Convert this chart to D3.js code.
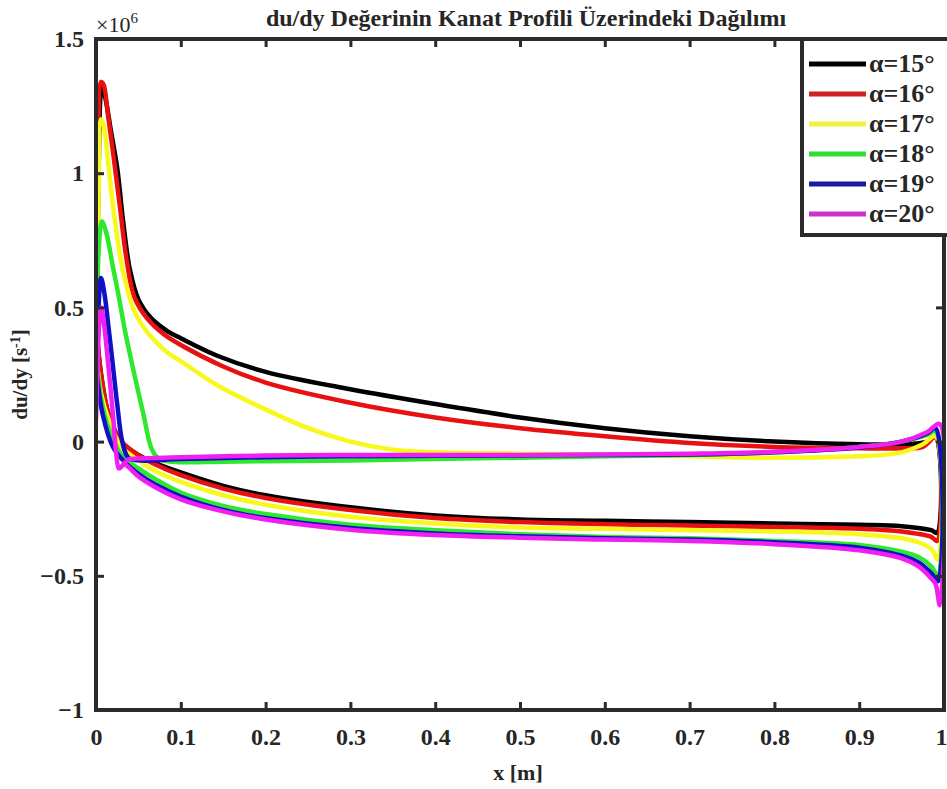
<!DOCTYPE html>
<html>
<head>
<meta charset="utf-8">
<script src="https://cdn.jsdelivr.net/npm/d3@7"></script>
<style>
  body { margin: 0; background: #fff; }
  svg { display: block; }
  text { font-family: "Liberation Serif", "Times New Roman", serif; font-weight: bold; fill: #262626; }
</style>
</head>
<body>
<svg id="chart" width="947" height="789"></svg>
<script>
// du/dy along the airfoil, [x (m), du/dy (×10^6 1/s)].
// Each path: leading edge -> peak -> upper surface -> trailing edge -> lower surface back to the leading edge.
const alpha15 = [[0.001,0.40],[0.003,1.00],[0.007,1.32],[0.011,1.28],[0.018,1.15],[0.025,1.02],[0.032,0.82],[0.040,0.64],[0.050,0.53],[0.065,0.46],[0.085,0.41],[0.10,0.385],[0.143,0.32],[0.20,0.26],[0.30,0.195],[0.40,0.14],[0.50,0.09],[0.60,0.05],[0.70,0.02],[0.80,0.0],[0.90,-0.01],[0.95,-0.01],[0.98,0.0],[0.99,0.02],[0.992,-0.34],[0.985,-0.33],[0.95,-0.315],[0.90,-0.31],[0.80,-0.305],[0.70,-0.30],[0.60,-0.295],[0.50,-0.29],[0.40,-0.275],[0.30,-0.245],[0.20,-0.20],[0.15,-0.165],[0.10,-0.115],[0.07,-0.08],[0.05,-0.05],[0.03,0.0],[0.015,0.10],[0.006,0.25],[0.001,0.40]];
const alpha16 = [[0.001,0.40],[0.003,1.00],[0.006,1.34],[0.009,1.33],[0.014,1.22],[0.020,1.08],[0.028,0.88],[0.036,0.68],[0.045,0.54],[0.060,0.46],[0.080,0.40],[0.10,0.36],[0.15,0.28],[0.20,0.22],[0.30,0.145],[0.40,0.09],[0.50,0.05],[0.60,0.02],[0.70,-0.005],[0.80,-0.02],[0.90,-0.025],[0.95,-0.025],[0.975,-0.02],[0.99,0.015],[0.992,-0.37],[0.985,-0.355],[0.95,-0.335],[0.90,-0.325],[0.80,-0.318],[0.70,-0.313],[0.60,-0.308],[0.50,-0.30],[0.40,-0.285],[0.30,-0.255],[0.20,-0.21],[0.15,-0.175],[0.10,-0.125],[0.07,-0.085],[0.05,-0.05],[0.03,0.0],[0.015,0.10],[0.006,0.25],[0.001,0.40]];
const alpha17 = [[0.001,0.30],[0.003,0.90],[0.006,1.20],[0.009,1.18],[0.014,1.05],[0.020,0.88],[0.028,0.70],[0.036,0.58],[0.046,0.48],[0.060,0.41],[0.085,0.33],[0.10,0.30],[0.143,0.21],[0.20,0.12],[0.25,0.05],[0.30,0.0],[0.35,-0.03],[0.40,-0.04],[0.50,-0.045],[0.60,-0.05],[0.70,-0.055],[0.80,-0.06],[0.90,-0.055],[0.95,-0.04],[0.975,-0.01],[0.99,0.02],[0.993,-0.44],[0.985,-0.40],[0.97,-0.375],[0.95,-0.36],[0.90,-0.345],[0.80,-0.335],[0.70,-0.33],[0.60,-0.325],[0.50,-0.32],[0.40,-0.305],[0.30,-0.28],[0.20,-0.235],[0.15,-0.20],[0.10,-0.15],[0.07,-0.11],[0.05,-0.07],[0.03,-0.02],[0.015,0.08],[0.006,0.18],[0.001,0.30]];
const alpha18 = [[0.001,0.30],[0.003,0.70],[0.007,0.82],[0.012,0.78],[0.020,0.65],[0.026,0.555],[0.035,0.40],[0.046,0.24],[0.056,0.10],[0.066,-0.03],[0.075,-0.065],[0.09,-0.075],[0.15,-0.075],[0.20,-0.073],[0.30,-0.07],[0.40,-0.065],[0.50,-0.06],[0.60,-0.055],[0.70,-0.05],[0.80,-0.04],[0.90,-0.02],[0.95,0.0],[0.98,0.025],[0.99,0.04],[0.993,-0.50],[0.985,-0.465],[0.97,-0.43],[0.95,-0.41],[0.90,-0.385],[0.80,-0.37],[0.70,-0.36],[0.60,-0.355],[0.50,-0.345],[0.40,-0.33],[0.30,-0.31],[0.20,-0.27],[0.15,-0.24],[0.10,-0.19],[0.07,-0.14],[0.05,-0.10],[0.03,-0.05],[0.015,0.05],[0.006,0.16],[0.001,0.30]];
const alpha19 = [[0.001,0.25],[0.003,0.50],[0.006,0.61],[0.010,0.55],[0.015,0.42],[0.019,0.31],[0.025,0.14],[0.031,0.0],[0.038,-0.06],[0.05,-0.07],[0.10,-0.065],[0.20,-0.058],[0.30,-0.055],[0.40,-0.053],[0.50,-0.052],[0.60,-0.05],[0.70,-0.048],[0.80,-0.04],[0.90,-0.022],[0.95,0.0],[0.98,0.03],[0.99,0.05],[0.993,-0.52],[0.985,-0.49],[0.97,-0.45],[0.95,-0.425],[0.90,-0.395],[0.80,-0.375],[0.70,-0.365],[0.60,-0.36],[0.50,-0.353],[0.40,-0.342],[0.30,-0.322],[0.20,-0.285],[0.15,-0.255],[0.10,-0.205],[0.07,-0.16],[0.05,-0.12],[0.035,-0.08],[0.02,-0.02],[0.008,0.10],[0.001,0.25]];
const alpha20 = [[0.0,0.08],[0.002,0.30],[0.004,0.45],[0.006,0.50],[0.009,0.45],[0.014,0.30],[0.020,0.10],[0.024,-0.05],[0.027,-0.10],[0.031,-0.09],[0.038,-0.067],[0.05,-0.063],[0.10,-0.058],[0.20,-0.052],[0.30,-0.05],[0.40,-0.05],[0.50,-0.05],[0.60,-0.048],[0.70,-0.045],[0.80,-0.038],[0.90,-0.02],[0.95,0.0],[0.98,0.035],[0.995,0.065],[0.995,-0.61],[0.99,-0.53],[0.985,-0.51],[0.97,-0.465],[0.95,-0.435],[0.90,-0.405],[0.80,-0.382],[0.70,-0.37],[0.60,-0.365],[0.50,-0.358],[0.40,-0.348],[0.30,-0.328],[0.20,-0.29],[0.15,-0.26],[0.10,-0.215],[0.07,-0.17],[0.05,-0.13],[0.04,-0.10],[0.033,-0.08]];

const seriesData = [alpha15, alpha16, alpha17, alpha18, alpha19, alpha20];
const seriesLabels = ["α=15°", "α=16°", "α=17°", "α=18°", "α=19°", "α=20°"];
const lineColors = ["#000000", "#e81010", "#f8f81c", "#2ee82e", "#1010c8", "#f020f0"];
const legendColors = ["#000000", "#cc2222", "#f0f040", "#33dd33", "#1a1aa0", "#cc33cc"];

const xTickValues = [0, 0.1, 0.2, 0.3, 0.4, 0.5, 0.6, 0.7, 0.8, 0.9, 1];
const yTickValues = [-1, -0.5, 0, 0.5, 1, 1.5];

const titleText = "du/dy Değerinin Kanat Profili Üzerindeki Dağılımı";
const xLabelText = "x [m]";

const svg = d3.select("#chart");
const plotLeft = 96, plotRight = 944, plotTop = 39, plotBottom = 710;
const serifStack = '"Liberation Serif", "Times New Roman", serif';

const x = d3.scaleLinear().domain([0, 1]).range([plotLeft, plotRight]);
const y = d3.scaleLinear().domain([-1, 1.5]).range([plotBottom, plotTop]);

const axisColor = "#2b2b2b";

// clip the curves to the axes box
svg.append("defs").append("clipPath").attr("id", "plotClip")
  .append("rect").attr("x", plotLeft).attr("y", plotTop)
  .attr("width", plotRight - plotLeft).attr("height", plotBottom - plotTop);

// curves
const line = d3.line()
  .x(d => x(d[0]))
  .y(d => y(d[1]))
  .curve(d3.curveCatmullRom.alpha(0.5));

svg.append("g").attr("clip-path", "url(#plotClip)")
  .selectAll("path")
  .data(seriesData)
  .join("path")
  .attr("d", line)
  .attr("fill", "none")
  .attr("stroke", (d, i) => lineColors[i])
  .attr("stroke-width", 4.5)
  .attr("stroke-linejoin", "round")
  .attr("stroke-linecap", "round");

// axes
const fmt = d => d3.format("~g")(d);

const xAxis = svg.append("g").attr("transform", `translate(0,${plotBottom})`)
  .call(d3.axisBottom(x).tickValues(xTickValues).tickFormat(fmt).tickSizeInner(-8).tickSizeOuter(0).tickPadding(18));
const xAxisTop = svg.append("g").attr("transform", `translate(0,${plotTop})`)
  .call(d3.axisTop(x).tickValues(xTickValues).tickFormat("").tickSizeInner(-8).tickSizeOuter(0));
const yAxis = svg.append("g").attr("transform", `translate(${plotLeft},0)`)
  .call(d3.axisLeft(y).tickValues(yTickValues).tickFormat(fmt).tickSizeInner(-8).tickSizeOuter(0).tickPadding(12));
const yAxisRight = svg.append("g").attr("transform", `translate(${plotRight},0)`)
  .call(d3.axisRight(y).tickValues(yTickValues).tickFormat("").tickSizeInner(-8).tickSizeOuter(0));

[xAxis, xAxisTop, yAxis, yAxisRight].forEach(g => {
  g.attr("font-family", serifStack).attr("font-size", 24);
  g.select(".domain").remove();
  g.selectAll(".tick line").attr("stroke", axisColor).attr("stroke-width", 3);
  g.selectAll(".tick text")
    .attr("fill", "#262626")
    .style("font-family", serifStack)
    .style("font-weight", "bold")
    .style("font-size", "24px");
});

// the last x label sits at the window edge; keep it inside
xAxis.selectAll(".tick text").filter(d => d === 1).attr("text-anchor", "end").attr("x", 3);

// axes box
svg.append("rect")
  .attr("x", plotLeft).attr("y", plotTop)
  .attr("width", plotRight - plotLeft).attr("height", plotBottom - plotTop)
  .attr("fill", "none").attr("stroke", axisColor).attr("stroke-width", 4);

// exponent marker
const expo = svg.append("text").attr("x", plotLeft).attr("y", 32).style("font-size", "22px").style("font-weight", "normal");
expo.append("tspan").text("×10");
expo.append("tspan").attr("dy", -9).style("font-size", "15px").text("6");

// title
svg.append("text")
  .attr("x", 526).attr("y", 26)
  .attr("text-anchor", "middle")
  .style("font-size", "24px")
  .text(titleText);

// axis labels
svg.append("text")
  .attr("x", 518).attr("y", 780)
  .attr("text-anchor", "middle")
  .style("font-size", "22px")
  .text(xLabelText);

const yl = svg.append("text")
  .attr("transform", `translate(27,${(plotTop + plotBottom) / 2}) rotate(-90)`)
  .attr("text-anchor", "middle")
  .style("font-size", "21px");
yl.append("tspan").text("du/dy [s");
yl.append("tspan").attr("dy", -7).style("font-size", "14px").text("-1");
yl.append("tspan").attr("dy", 7).text("]");

// legend
const lg = svg.append("g");
lg.append("rect")
  .attr("x", 802).attr("y", plotTop)
  .attr("width", 160).attr("height", 196)
  .attr("fill", "#fff").attr("stroke", axisColor).attr("stroke-width", 4);

const items = lg.selectAll("g.item")
  .data(seriesLabels)
  .join("g").attr("class", "item")
  .attr("transform", (d, i) => `translate(0,${64 + i * 30})`);

items.append("line")
  .attr("x1", 809).attr("x2", 866).attr("y1", 0).attr("y2", 0)
  .attr("stroke", (d, i) => legendColors[i]).attr("stroke-width", 5);

items.append("text")
  .attr("x", 869).attr("y", 8)
  .style("font-size", "26px")
  .text(d => d);
</script>
</body>
</html>
